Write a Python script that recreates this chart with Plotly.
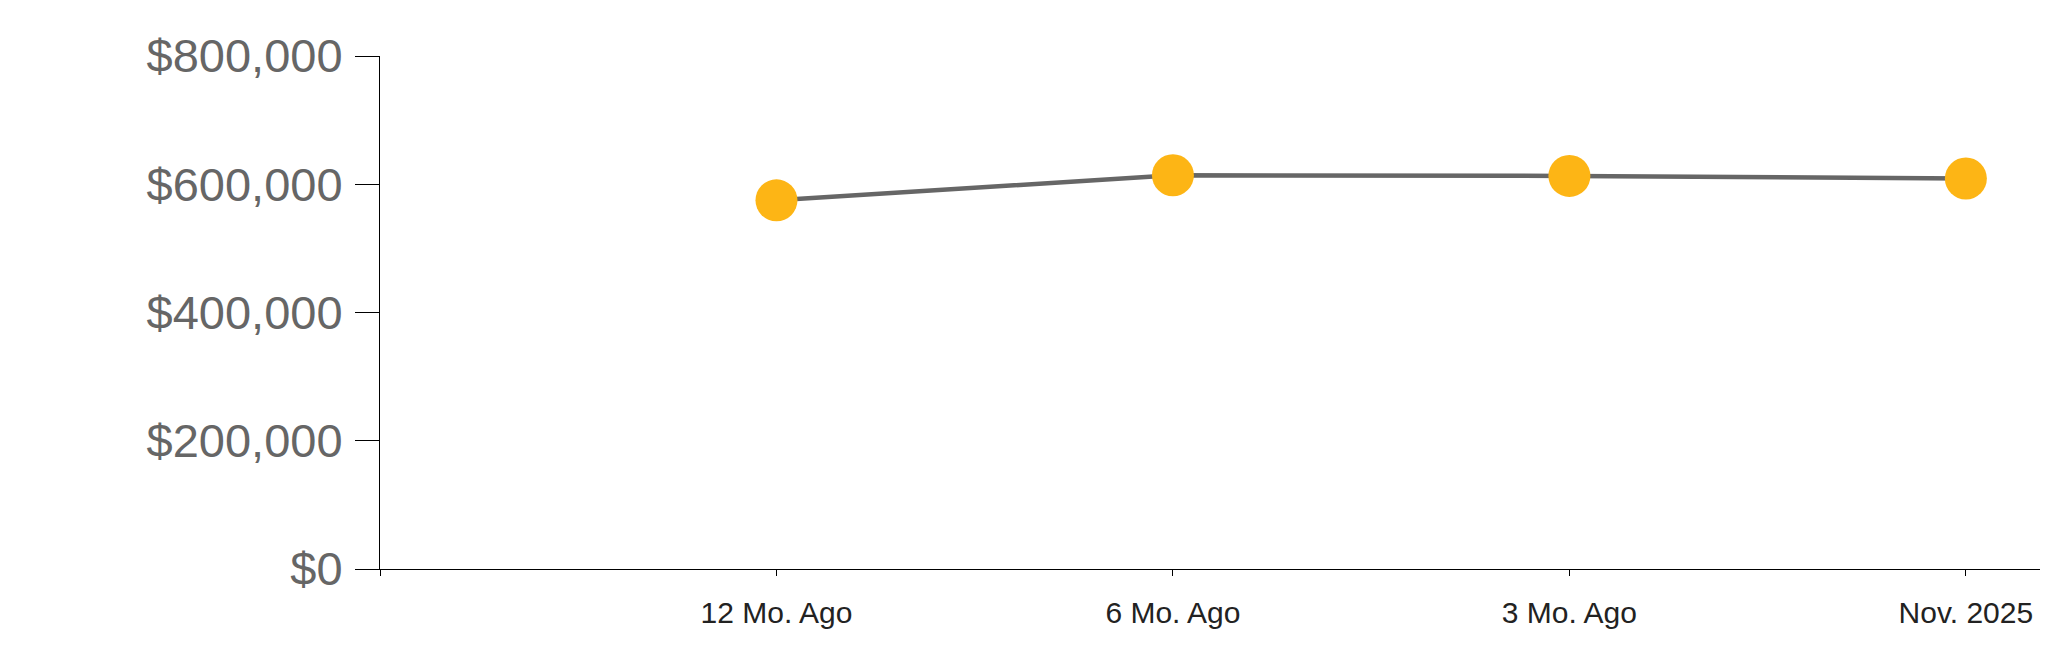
import plotly.graph_objects as go

# Median price by period
periods = ["12 Mo. Ago", "6 Mo. Ago", "3 Mo. Ago", "Nov. 2025"]
prices = [575000, 614000, 613000, 609000]

y_ticks = [0, 200000, 400000, 600000, 800000]
y_tick_labels = ["$0", "$200,000", "$400,000", "$600,000", "$800,000"]

_LINE = "#666666"
_DOT = "#FDB515"

xs = list(range(len(periods)))

fig = go.Figure(
    go.Scatter(
        x=xs,
        y=prices,
        mode="lines+markers",
        line=dict(color=_LINE, width=4.5),
        marker=dict(size=42, color=_DOT, line=dict(width=0)),
        showlegend=False,
        hoverinfo="skip",
    )
)

# page body has an 8px margin, so the figure is sized to fit inside it
fig.update_layout(
    width=2032,
    height=647,
    margin=dict(l=372, r=0, t=48, b=86),
    paper_bgcolor="white",
    plot_bgcolor="white",
    font=dict(family="Liberation Sans, Arial, sans-serif"),
)

fig.update_xaxes(
    range=[-1, len(periods) - 1 + 0.187],
    tickvals=[-1] + xs,
    ticktext=[""] + periods,
    ticks="outside",
    ticklen=6,
    tickcolor="#000000",
    tickfont=dict(size=30, color="#222222"),
    showline=True,
    linecolor="#000000",
    linewidth=1,
    showgrid=False,
    zeroline=False,
    ticklabelstandoff=11,
)

fig.update_yaxes(
    range=[0, 800000],
    tickvals=y_ticks,
    ticktext=y_tick_labels,
    ticks="outside",
    ticklen=24,
    tickcolor="#000000",
    tickfont=dict(size=47, color="#666666"),
    showline=True,
    linecolor="#000000",
    linewidth=1,
    showgrid=False,
    zeroline=False,
    ticklabelstandoff=3,
)

fig.write_html("out.html")
